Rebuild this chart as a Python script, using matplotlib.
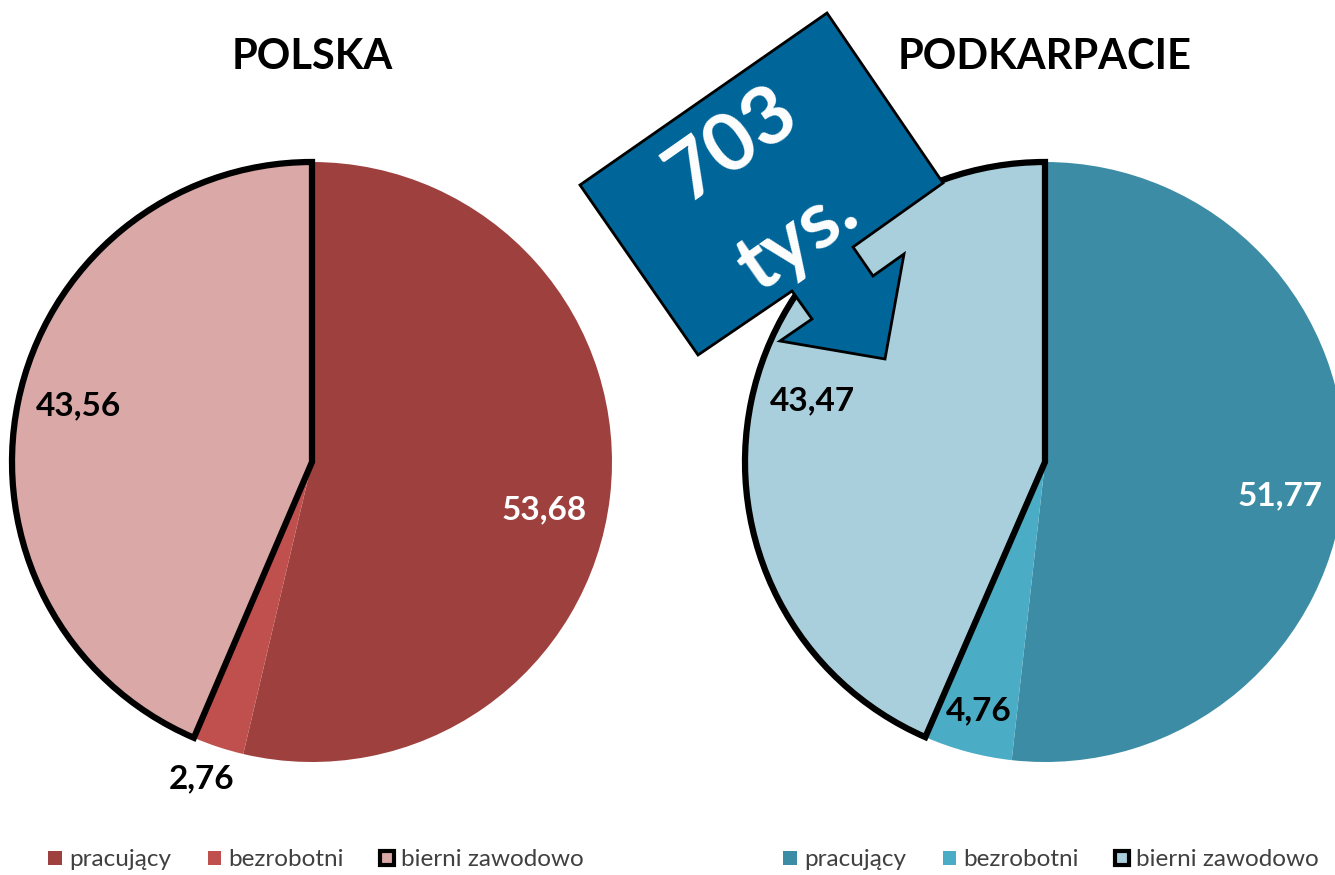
import matplotlib.pyplot as plt
from matplotlib.patches import Polygon, Rectangle
from matplotlib.legend import Legend
import numpy as np

plt.rcParams['font.family'] = ['Lato', 'DejaVu Sans']

categories = ['pracujący', 'bezrobotni', 'bierni zawodowo']
polska = [53.68, 2.76, 43.56]
podkarpacie = [51.77, 4.76, 43.47]
titles = ['POLSKA', 'PODKARPACIE']

red_cols = ['#9E413E', '#C0504D', '#D9A8A7']
blue_cols = ['#3D8CA5', '#4BACC6', '#A9CFDD']

W, H = 1335, 875
fig = plt.figure(figsize=(W / 100, H / 100), dpi=100)
ax = fig.add_axes([0, 0, 1, 1])


def draw_pie(vals, cols, cx, cy, title, lab_r, lab_shift, lab_col, leg_x):
    wedges, _ = ax.pie(vals, colors=cols, startangle=90, counterclock=False,
                       center=(cx, H - cy), radius=300,
                       wedgeprops=dict(linewidth=0))
    w = wedges[2]
    w.set_edgecolor('black')
    w.set_linewidth(4.5)
    w.set_joinstyle('miter')
    w.set_zorder(3)
    for wd, v, r, sh, c in zip(wedges, vals, lab_r, lab_shift, lab_col):
        a = np.deg2rad((wd.theta1 + wd.theta2) / 2 + sh)
        ax.text(cx + r * 300 * np.cos(a), H - cy + r * 300 * np.sin(a),
                f'{v:.2f}'.replace('.', ','), ha='center', va='center',
                fontsize=24, fontweight='bold', color=c, zorder=5)
    ax.text(cx, H - 57, title, ha='center', va='center', fontsize=30,
            fontweight='bold', color='black')
    handles = [Rectangle((0, 0), 1, 1, facecolor=cols[0], linewidth=0),
               Rectangle((0, 0), 1, 1, facecolor=cols[1], linewidth=0),
               Rectangle((0, 0), 1, 1, facecolor=cols[2], edgecolor='black',
                         linewidth=3)]
    leg = Legend(ax, handles, categories, loc='center', ncol=3,
                 bbox_to_anchor=(leg_x, H - 860),
                 bbox_transform=ax.transData, frameon=False,
                 fontsize=17.5, handlelength=0.55, handleheight=0.55,
                 handletextpad=0.3, columnspacing=1.5, labelcolor='#404040')
    ax.add_artist(leg)


draw_pie(polska, red_cols, 312, 462, titles[0], [0.79, 1.12, 0.80],
         [-5, -1, -2], ['white', 'black', 'black'], 316)
draw_pie(podkarpacie, blue_cols, 1045, 462, titles[1], [0.79, 0.86, 0.80],
         [-5, 0, -3], ['white', 'black', 'black'], 1051)

# callout arrow
arrow_px = [(827, 13), (580, 185), (698, 355), (792, 291), (812, 319),
            (780, 341), (885, 359), (904, 254), (873, 276), (853, 247),
            (943, 183)]
ax.add_patch(Polygon([(x, H - y) for x, y in arrow_px], closed=True,
                     facecolor='#006699', edgecolor='black', linewidth=2,
                     joinstyle='miter', zorder=6))
ax.text(732, H - 145, '703', rotation=35, ha='center', va='center',
        fontsize=58, fontweight='bold', color='white', zorder=7)
ax.text(797, H - 238, 'tys.', rotation=35, ha='center', va='center',
        fontsize=58, fontweight='bold', color='white', zorder=7)

ax.set_xlim(0, W)
ax.set_ylim(0, H)
ax.set_aspect('equal')
ax.axis('off')
fig.savefig('out.png', dpi=100)
